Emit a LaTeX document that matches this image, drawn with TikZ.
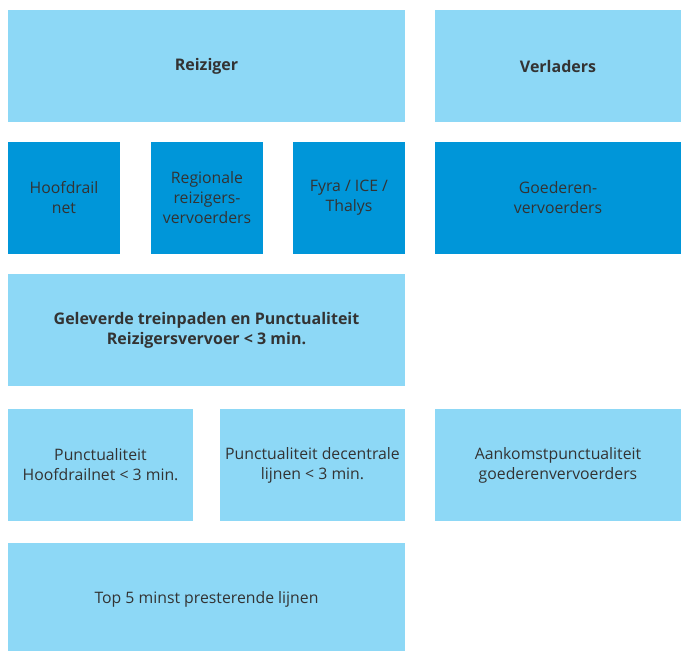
\documentclass[tikz,border=0pt]{standalone}
\usepackage{fontspec}
\setmainfont{Open Sans}
\usetikzlibrary{positioning}
\definecolor{lichtblauw}{HTML}{8DD8F6}
\definecolor{donkerblauw}{HTML}{0096D9}
\definecolor{tekst}{HTML}{333333}

\begin{document}
\begin{tikzpicture}[x=1pt,y=-1pt,node distance=20pt and 30pt,
  blok/.style={fill=lichtblauw,inner sep=0pt,outer sep=0pt,minimum height=112pt,align=center,
    text=tekst,font=\fontsize{15.8}{20}\selectfont,anchor=north west},
  breed/.style={blok,minimum width=397pt},
  smal/.style={blok,minimum width=112pt},
  half/.style={blok,minimum width=185pt},
  rechts/.style={blok,minimum width=246pt},
  donker/.style={fill=donkerblauw},
  kop/.style={font=\bfseries\fontsize{16}{20}\selectfont}]
\useasboundingbox (0,0) rectangle (681,651);
\node[breed,kop]	(reiziger)	at (8,10)	{Reiziger};
\node[rechts,kop]	(verladers)	at (435,10)	{Verladers};
\node[smal,donker]	(hoofdrail)	[below=20pt of reiziger.south west,anchor=north west]	{Hoofdrail\\net};
\node[smal,donker]	(regionaal)	[right=31pt of hoofdrail.north east,anchor=north west]	{Regionale\\reizigers-\\vervoerders};
\node[smal,donker]	(fyra)		[right=30pt of regionaal.north east,anchor=north west]	{Fyra / ICE /\\Thalys};
\node[rechts,donker]	(goederen)	[below=20pt of verladers.south west,anchor=north west]	{Goederen-\\vervoerders};
\node[breed,kop]	(geleverd)	[below=20pt of hoofdrail.south west,anchor=north west]	{Geleverde treinpaden en Punctualiteit\\Reizigersvervoer < 3 min.};
\node[half]		(hoofdpunct)	[below=23pt of geleverd.south west,anchor=north west]	{Punctualiteit\\Hoofdrailnet < 3 min.};
\node[half]		(decentraal)	[right=27pt of hoofdpunct.north east,anchor=north west]	{Punctualiteit decentrale\\lijnen < 3 min.};
\node[rechts]		(aankomst)	[right=30pt of decentraal.north east,anchor=north west]	{Aankomstpunctualiteit\\goederenvervoerders};
\node[breed]		(top)		[below=22pt of hoofdpunct.south west,anchor=north west]	{Top 5 minst presterende lijnen};
\end{tikzpicture}
\end{document}
